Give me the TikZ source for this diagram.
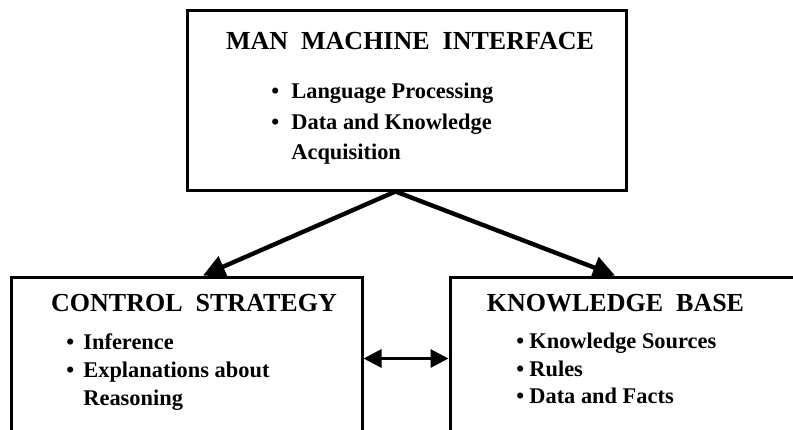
\documentclass[tikz,border=0pt]{standalone}
\usepackage{fontspec}
\setmainfont{Liberation Serif}
\usetikzlibrary{arrows.meta}

\newcommand{\itembul}[1]{\makebox[#1][l]{\textbullet}}

\tikzset{
  box/.style={draw, line width=1.5pt, inner sep=0pt},
  head/.style={inner sep=0pt, font=\fontsize{13}{15}\selectfont\bfseries},
  items/.style={anchor=north west, align=left, inner sep=0pt, font=\fontsize{11.2}{15.25}\selectfont\bfseries},
  link/.style={-{Triangle[length=11pt,width=11pt]}, line width=2.2pt},
  both/.style={{Triangle[length=9pt,width=9pt]}-{Triangle[length=9pt,width=9pt]}, line width=1.5pt},
}

\begin{document}
\begin{tikzpicture}[x=0.5pt, y=-0.5pt]
    \useasboundingbox (0,0) rectangle (793,429);
    \clip (0,0) rectangle (793,429);

    \node[box, minimum width=219.5pt, minimum height=90pt] (mmi) at (406.5,100) {};
    \node[box, minimum width=175.5pt, minimum height=81.5pt] (cs) at (186.5,358.5) {};
    \node[box, minimum width=175pt, minimum height=81.5pt] (kb) at (625,358.5) {};

    \node[head] (mmihead) at (410,41) {MAN\enspace MACHINE\enspace INTERFACE};
    \node[items] (mmilist) at (271,83) {\itembul{10pt}Language Processing\\ \itembul{10pt}Data and Knowledge\\ \hspace{10pt}Acquisition};

    \node[head] (cshead) at (194,303) {CONTROL\enspace STRATEGY};
    \node[items, font=\fontsize{11.2}{14}\selectfont\bfseries] (cslist) at (66,333) {\itembul{8.5pt}Inference\\ \itembul{8.5pt}Explanations about\\ \hspace{8.5pt}Reasoning};

    \node[head] (kbhead) at (615.5,303) {KNOWLEDGE\enspace BASE};
    \node[items, font=\fontsize{11.2}{13.75}\selectfont\bfseries] (kblist) at (516,333) {\itembul{6.5pt}Knowledge Sources\\ \itembul{6.5pt}Rules\\ \itembul{6.5pt}Data and Facts};

    \draw[link] ([xshift=-5.5pt]mmi.south) -- ([xshift=8.25pt]cs.north);
    \draw[link] ([xshift=-5.5pt]mmi.south) -- ([xshift=-5pt]kb.north);
    \draw[both] (cs.east) -- (kb.west);
\end{tikzpicture}
\end{document}
